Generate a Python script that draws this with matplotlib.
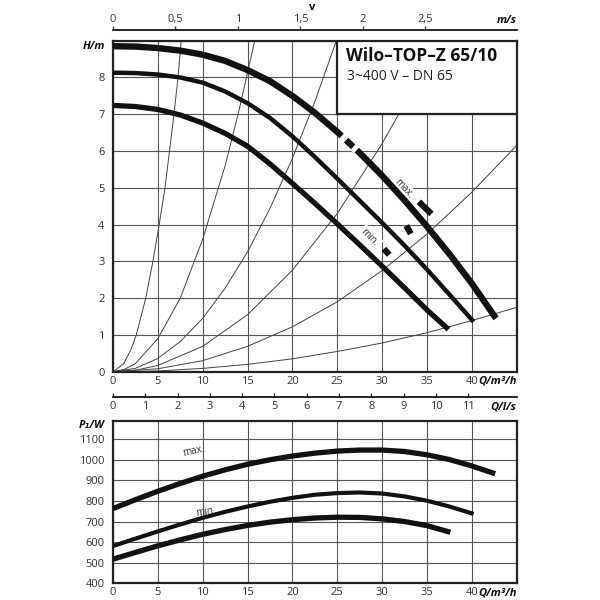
import numpy as np
import matplotlib.pyplot as plt
from matplotlib.patches import Rectangle

plt.rcParams['font.family'] = ['Open Sans', 'DejaVu Sans']

# -- pump curves H(Q)
q_hmax = [0, 2.5, 5, 7.5, 10, 12.5, 15, 17.5, 20, 22.5, 25, 27.5, 30, 32.5, 35, 37.5, 40, 42.7]
h_max = [8.85, 8.84, 8.80, 8.73, 8.62, 8.45, 8.20, 7.90, 7.50, 7.04, 6.52, 5.95, 5.33, 4.66, 3.95, 3.20, 2.40, 1.45]
q_hmid = [0, 2.5, 5, 7.5, 10, 12.5, 15, 17.5, 20, 22.5, 25, 27.5, 30, 32.5, 35, 37.5, 40.2]
h_mid = [8.13, 8.12, 8.08, 8.00, 7.86, 7.62, 7.30, 6.90, 6.40, 5.84, 5.25, 4.65, 4.05, 3.43, 2.78, 2.10, 1.36]
q_hmin = [0, 2.5, 5, 7.5, 10, 12.5, 15, 17.5, 20, 22.5, 25, 27.5, 30, 32.5, 35, 37.4]
h_min = [7.24, 7.21, 7.13, 6.98, 6.76, 6.48, 6.13, 5.65, 5.12, 4.58, 4.02, 3.45, 2.87, 2.28, 1.68, 1.15]

# -- thin system curves (Q, H)
sys_curves = [
    ([0, 1.2, 2.0, 2.6, 3.65, 4.45, 5.15, 5.8, 6.3, 6.8, 7.25, 7.6],
     [0, 0.22, 0.6, 1, 2, 3, 4, 5, 6, 7, 8, 9]),
    ([0, 1.25, 2.5, 5, 7.5, 10, 12.5, 14, 15.8],
     [0, 0.06, 0.22, 0.9, 2.0, 3.6, 5.6, 7.05, 9.0]),
    ([0, 2.5, 5, 7.5, 10, 12.5, 15, 17.5, 20, 22.5, 24.9],
     [0, 0.09, 0.36, 0.82, 1.45, 2.27, 3.26, 4.44, 5.8, 7.34, 9.0]),
    ([0, 2.5, 5, 10, 15, 20, 25, 30, 33, 36.1],
     [0, 0.04, 0.17, 0.69, 1.55, 2.76, 4.3, 6.2, 7.5, 9.0]),
    ([0, 5, 10, 15, 20, 25, 30, 35, 40, 45],
     [0, 0.08, 0.3, 0.69, 1.22, 1.9, 2.75, 3.74, 4.88, 6.15]),
    ([0, 5, 10, 15, 20, 25, 30, 35, 40, 45],
     [0, 0.02, 0.09, 0.2, 0.35, 0.55, 0.78, 1.06, 1.39, 1.75]),
]

# small black pieces next to the labels and the gaps in the max curve
pieces_q = [(34.1, 35.5), (32.7, 33.2), (30.2, 30.8)]
pieces_h = [(4.62, 4.29), (3.97, 3.75), (3.34, 3.18)]
gaps_q = [(25.5, 26.0), (26.8, 27.2)]
gaps_h = [(6.41, 6.30), (6.12, 6.03)]

# -- power curves P1(Q)
q_pmax = [0, 2.5, 5, 7.5, 10, 12.5, 15, 17.5, 20, 22.5, 25, 27.5, 30, 32.5, 35, 37.5, 40, 42.6]
p_max = [763, 806, 847, 885, 920, 951, 978, 1000, 1018, 1032, 1042, 1047, 1047, 1040, 1024, 1001, 970, 932]
q_pmid = [0, 2.5, 5, 7.5, 10, 12.5, 15, 17.5, 20, 22.5, 25, 27.5, 30, 32.5, 35, 37.5, 40.2]
p_mid = [581, 617, 652, 686, 718, 747, 773, 796, 815, 830, 838, 841, 836, 822, 801, 773, 737]
q_pmin = [0, 2.5, 5, 7.5, 10, 12.5, 15, 17.5, 20, 22.5, 25, 27.5, 30, 32.5, 35, 37.6]
p_min = [517, 550, 582, 611, 638, 661, 681, 697, 709, 717, 721, 720, 713, 700, 680, 648]

q_ticks = [0, 5, 10, 15, 20, 25, 30, 35, 40, 45]
h_ticks = [0, 1, 2, 3, 4, 5, 6, 7, 8, 9]
p_ticks = [400, 500, 600, 700, 800, 900, 1000, 1100]
v_ticks = [0, 0.5, 1, 1.5, 2, 2.5]
v_labels = ['0', '0,5', '1', '1,5', '2', '2,5']
ls_ticks = list(range(12))

Q_PER_MS = 13.93   # m3/h per m/s on the velocity scale
Q_PER_LS = 3.6

GRID = '#555555'
TXT = '#333333'


def style_axes(ax, yticks, ylim):
    ax.set_xlim(0, 45)
    ax.set_ylim(*ylim)
    ax.set_xticks(q_ticks)
    ax.set_xticklabels([str(t) for t in q_ticks[:-1]] + [''])
    ax.set_yticks(yticks)
    ax.grid(True, color=GRID, lw=0.8)
    ax.set_axisbelow(True)
    ax.tick_params(length=0, labelsize=8, colors=TXT, pad=3)
    for s in ax.spines.values():
        s.set_linewidth(1.6)
        s.set_color('#222222')


fig = plt.figure(figsize=(6, 6), dpi=100)

# ---------- H/Q chart
ax = fig.add_axes([0.1883, 0.3805, 0.6728, 0.5517])
style_axes(ax, h_ticks, (0, 9))
ax.set_yticklabels([str(t) for t in h_ticks[:-1]] + [''])
ax.tick_params(axis='y', pad=6)

for qs, hs in sys_curves:
    ax.plot(qs, hs, color='#444444', lw=0.7, zorder=2)

ax.plot(q_hmax, h_max, color='#111111', lw=4.6, solid_capstyle='butt', zorder=6)
ax.plot(q_hmid, h_mid, color='#111111', lw=3.2, solid_capstyle='butt', zorder=6)
ax.plot(q_hmin, h_min, color='#111111', lw=3.8, solid_capstyle='butt', zorder=6)
for qq, hh in zip(gaps_q, gaps_h):
    ax.plot(qq, hh, color='white', lw=7, solid_capstyle='butt', zorder=7)
for qq, hh in zip(pieces_q, pieces_h):
    ax.plot(qq, hh, color='#111111', lw=4.5, solid_capstyle='butt', zorder=6)

halo = dict(facecolor='white', edgecolor='none', pad=1.5)
ax.text(32.4, 4.97, 'max.', rotation=-48, ha='center', va='center', fontsize=7,
        color=TXT, bbox=halo, zorder=5)
ax.text(28.6, 3.64, 'min.', rotation=-45, ha='center', va='center', fontsize=7,
        color=TXT, bbox=halo, zorder=5)

ax.add_patch(Rectangle((25, 7), 20, 2, facecolor='white', edgecolor='#222222',
                       lw=1.6, zorder=8))
ax.text(26.0, 8.58, 'Wilo–TOP–Z 65/10', fontsize=12.5, fontweight='bold',
        ha='left', va='center', color='#111111', zorder=9)
ax.text(26.1, 8.02, '3~400 V – DN 65', fontsize=10, ha='left', va='center',
        color='#222222', zorder=9)

ax.text(1.0, -0.028, 'Q/m³/h', transform=ax.transAxes, ha='right', va='center',
        fontsize=8, fontweight='bold', style='italic', color='#111111')
ax.text(-0.02, 0.982, 'H/m', transform=ax.transAxes, ha='right', va='center',
        fontsize=8, fontweight='bold', style='italic', color='#111111')

# velocity scale on top
sec = ax.secondary_xaxis('top', functions=(lambda q: q / Q_PER_MS, lambda v: v * Q_PER_MS))
sec.spines['top'].set_position(('outward', 7.7))
sec.spines['top'].set_linewidth(1.2)
sec.set_xticks(v_ticks)
sec.set_xticklabels(v_labels)
sec.tick_params(direction='out', length=3, width=1, labelsize=8, colors=TXT, pad=0.5)
ax.text(1.0, 1.062, 'm/s', transform=ax.transAxes, ha='right', va='center',
        fontsize=8, fontweight='bold', style='italic', color='#111111')
ax.text(0.493, 1.1, 'v', transform=ax.transAxes, ha='center', va='center',
        fontsize=8, fontweight='bold', color='#111111')

# l/s scale between the charts
sec2 = ax.secondary_xaxis('bottom', functions=(lambda q: q / Q_PER_LS, lambda l: l * Q_PER_LS))
sec2.spines['bottom'].set_position(('outward', 18))
sec2.spines['bottom'].set_linewidth(1.2)
sec2.set_xticks(ls_ticks)
sec2.tick_params(direction='in', length=3, width=1, labelsize=8, colors=TXT, pad=3)
ax.text(1.0, -0.107, 'Q/l/s', transform=ax.transAxes, ha='right', va='center',
        fontsize=8, fontweight='bold', style='italic', color='#111111')

# ---------- P1/Q chart
ax2 = fig.add_axes([0.1883, 0.0278, 0.6728, 0.2705])
style_axes(ax2, p_ticks, (400, 1188))
ax2.tick_params(axis='y', pad=6)

ax2.plot(q_pmax, p_max, color='#111111', lw=3.8, solid_capstyle='butt', zorder=6)
ax2.plot(q_pmid, p_mid, color='#111111', lw=3.0, solid_capstyle='butt', zorder=6)
ax2.plot(q_pmin, p_min, color='#111111', lw=3.8, solid_capstyle='butt', zorder=6)
ax2.text(9.0, 1040, 'max.', rotation=12, ha='center', va='center', fontsize=7, color=TXT)
ax2.text(10.3, 748, 'min.', rotation=8, ha='center', va='center', fontsize=7, color=TXT)

ax2.text(1.0, -0.06, 'Q/m³/h', transform=ax2.transAxes, ha='right', va='center',
         fontsize=8, fontweight='bold', style='italic', color='#111111')
ax2.text(-0.02, 0.975, 'P₁/W', transform=ax2.transAxes, ha='right', va='center',
         fontsize=8, fontweight='bold', style='italic', color='#111111')

fig.savefig('out.png', dpi=100, facecolor='white')
